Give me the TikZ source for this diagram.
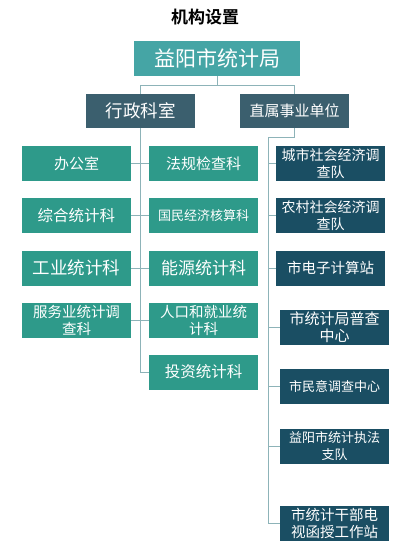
\documentclass[tikz,border=0pt]{standalone}
\usepackage{fontspec}
\setmainfont{Noto Sans CJK SC}[BoldFont={Noto Sans CJK SC Bold}]
\usetikzlibrary{positioning}
\definecolor{headteal}{RGB}{69,165,165}
\definecolor{slate}{RGB}{59,95,110}
\definecolor{sect}{RGB}{46,154,138}
\definecolor{unit}{RGB}{26,78,99}
\definecolor{wire}{RGB}{141,179,184}

\begin{document}
\begin{tikzpicture}[x=1pt,y=-1pt,
  every node/.style={text=white,inner sep=1pt,align=center},
  box/.style={minimum width=109pt,minimum height=35pt},
  sectbox/.style={box,fill=sect},
  unitbox/.style={box,fill=unit},
  link/.style={draw=wire,line width=0.9pt}]
\useasboundingbox (0,0) rectangle (410,557);
\node[text=black,font=\fontsize{17}{17}\selectfont\bfseries] (title) at (205,17) {机构设置};
\node[fill=headteal,minimum width=166pt,minimum height=35pt,
  font=\fontsize{21}{21}\selectfont] (top) at (217,58.5) {益阳市统计局};
\node[box,fill=slate,minimum height=34pt,font=\fontsize{17.5}{18}\selectfont]
  (xz) at (140.5,111) {行政科室};
\node[box,fill=slate,minimum height=34pt,font=\fontsize{15}{16}\selectfont]
  (zs) at (294.5,111) {直属事业单位};
% administrative sections
\node[sectbox,font=\fontsize{15}{16}\selectfont] (bgs) at (76.5,163.5) {办公室};
\node[sectbox,font=\fontsize{15}{16}\selectfont] (fg) at (203.5,163.5) {法规检查科};
\node[sectbox,font=\fontsize{15.5}{16}\selectfont] (zh) at (76.5,215.5) {综合统计科};
\node[sectbox,font=\fontsize{13}{14}\selectfont] (gm) at (203.5,215.5) {国民经济核算科};
\node[sectbox,font=\fontsize{17.5}{18}\selectfont] (gy) at (76.5,268) {工业统计科};
\node[sectbox,font=\fontsize{17}{18}\selectfont] (ny) at (203.5,268) {能源统计科};
\node[sectbox,font=\fontsize{14.5}{17}\selectfont] (fw) at (76.5,320) {服务业统计调\\查科};
\node[sectbox,font=\fontsize{14.5}{17}\selectfont] (rk) at (203.5,320) {人口和就业统\\计科};
\node[sectbox,font=\fontsize{15.5}{16}\selectfont] (tz) at (203.5,372) {投资统计科};
% directly affiliated units
\node[unitbox,font=\fontsize{14}{17}\selectfont] (cs) at (330.5,163.5) {城市社会经济调\\查队};
\node[unitbox,font=\fontsize{14}{17}\selectfont] (ns) at (330.5,215.5) {农村社会经济调\\查队};
\node[unitbox,font=\fontsize{14.5}{16}\selectfont] (dz) at (330.5,268) {市电子计算站};
\node[unitbox,font=\fontsize{15}{17}\selectfont] (pc) at (334.5,327.5) {市统计局普查\\中心};
\node[unitbox,font=\fontsize{13}{14}\selectfont] (my) at (334.5,386.5) {市民意调查中心};
\node[unitbox,font=\fontsize{13}{17}\selectfont] (zf) at (334.5,446) {益阳市统计执法\\支队};
\node[unitbox,font=\fontsize{14.5}{17}\selectfont] (hs) at (334.5,523.5) {市统计干部电\\视函授工作站};
\coordinate (rt) at (268,137);

\draw[link] (top.south) -- ++(0,9) -| (xz.north);
\draw[link] (top.south) -- ++(0,9) -| (zs.north);
\draw[link] (xz.south) |- (tz.west);
\draw[link] (bgs.east) -- (fg.west);
\draw[link] (zh.east) -- (gm.west);
\draw[link] (gy.east) -- (ny.west);
\draw[link] (fw.east) -- (rk.west);
\draw[link] (zs.south) |- (rt) |- (hs.west);
\foreach \u in {cs,ns,dz,pc,my,zf}
  \draw[link] (\u.west) -- (\u.west -| rt);
\end{tikzpicture}
\end{document}
